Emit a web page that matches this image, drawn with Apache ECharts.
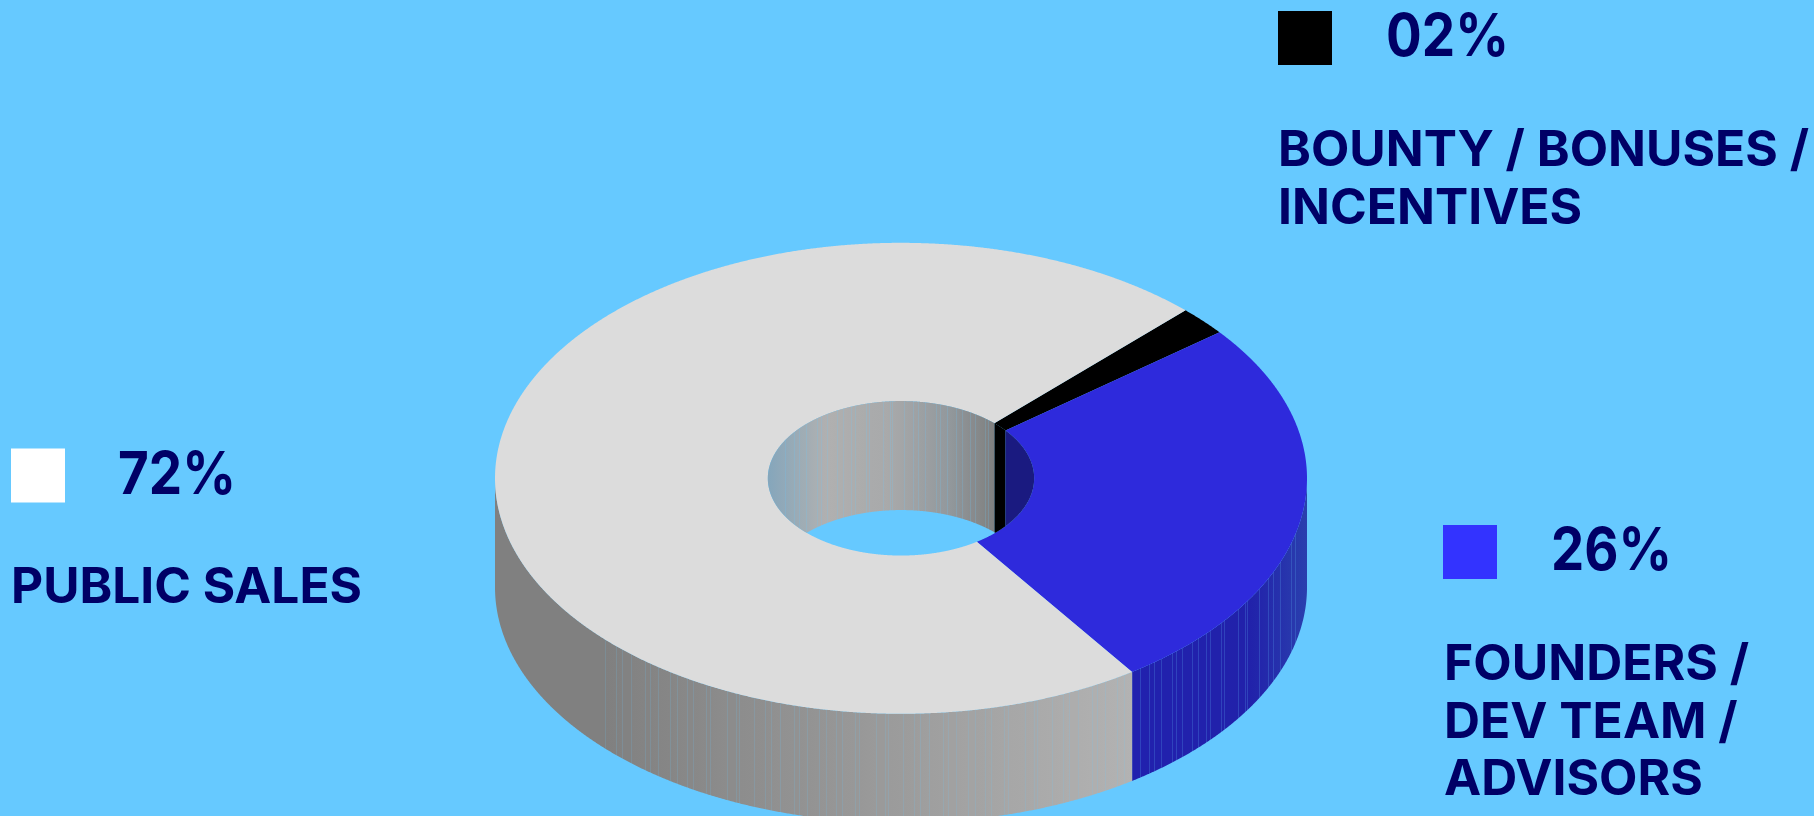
<!DOCTYPE html>
<html><head><meta charset="utf-8">
<style>html,body{margin:0;padding:0;background:#66c9ff}#c{width:1814px;height:816px}</style>
<script src="https://cdn.jsdelivr.net/npm/echarts@6/dist/echarts.min.js"></script>
</head><body><div id="c"></div>
<script>
// ---- data ----
const categories = ['BOUNTY / BONUSES /\nINCENTIVES', 'FOUNDERS /\nDEV TEAM /\nADVISORS', 'PUBLIC SALES'];
const shares = [2, 26, 72];
const shareLabels = ['02%', '26%', '72%'];

// ---- style / layout ----
const BG = '#66c9ff', INK = '#000066';
const swatchColors = ['#000000', '#3333ff', '#ffffff'];
const topColors = ['#000000', '#2e2adc', '#dcdcdc'];
const CX = 901, CY = 478.3, RX = 406, SQUASH = 0.58, HOLE = 0.328, DEPTH = 109, START = 45.5;
const legendPos = [
  {sx:1278, sy:11,  px:1386, py:38.5,  lx:1278, ly:122.5, w:531, pw:123},
  {sx:1443, sy:525, px:1551, py:552.5, lx:1444, ly:636.5, w:305, pw:121},
  {sx:11,   sy:448.5, px:118,  py:476.5, lx:11,   ly:559.5, w:351, pw:118}
];
const FONT = 'Inter';
const PCT_FONT = '700 59px ' + FONT, LABEL_FONT = '700 49.5px ' + FONT;
const gaps = [11, 6, 9, 14, 5, 8, 12, 7, 10, 6, 13, 4, 17, 9, 3, 15];

const measurer = document.createElement('canvas').getContext('2d');
function widest(text, font){
  measurer.font = font;
  return Math.max.apply(null, text.split('\n').map(t => measurer.measureText(t).width));
}
function mix(a, b, t){
  const p = c => [1,3,5].map(i => parseInt(c.substr(i,2),16));
  const A = p(a), B = p(b);
  return 'rgb(' + A.map((v,i) => Math.round(v + (B[i]-v)*t)).join(',') + ')';
}
function shadeAt(stops, x){
  for (let i = 1; i < stops.length; i++) {
    if (x <= stops[i][0]) {
      const t = (x - stops[i-1][0]) / (stops[i][0] - stops[i-1][0]);
      return mix(stops[i-1][1], stops[i][1], Math.max(0, t));
    }
  }
  return mix(stops[stops.length-1][1], stops[stops.length-1][1], 0);
}
function mixRgb(rgb, hex, t){
  const A = rgb.match(/\d+/g).map(Number);
  const B = [1,3,5].map(i => parseInt(hex.substr(i,2),16));
  return 'rgb(' + A.map((v,i) => Math.round(v + (B[i]-v)*t)).join(',') + ')';
}
// horizontal gradient in page space with thin, light vertical streaks
function wallFill(stops, from, to, amount, density){
  const x0 = stops[0][0], x1 = stops[stops.length-1][0], W = x1 - x0;
  const out = [];
  const add = (x, color) => out.push({offset: Math.min(1, Math.max(0, (x-x0)/W)), color});
  add(x0, shadeAt(stops, x0));
  let x = from, k = 0;
  while (x < to - 1) {
    const base = shadeAt(stops, x);
    add(x, base);
    add(x, mixRgb(base, BG, amount));
    add(x + 1, mixRgb(base, BG, amount));
    add(x + 1, shadeAt(stops, x + 1));
    x += gaps[k++ % gaps.length] * density;
  }
  add(x1, shadeAt(stops, x1));
  return new echarts.graphic.LinearGradient(x0, 0, x1, 0, out, true);
}
const outerFills = [
  '#000000',
  wallFill([[1134,'#2121ae'],[1250,'#2121aa'],[1307,'#2a3fae']], 1140, 1300, 0.2, 0.8),
  wallFill([[495,'#808080'],[605,'#808080'],[880,'#9a9a9a'],[1134.5,'#b3b3b3']], 605, 1130, 0.16, 1)
];
const innerFills = [
  '#000000',
  '#1a1a80',
  wallFill([[767,'#84a6bc'],[825,'#b0b0b0'],[890,'#a8a9aa'],[950,'#92989c'],[995,'#7f7f7f']], 785, 990, 0.2, 0.8)
];

// cumulative [start, end, radius] rows for the polar scale
let run = 0;
const rows = shares.map(v => { const r = [run, run + v, 1]; run += v; return r; });

function squash(p){ return [p[0], CY + (p[1] - CY) * SQUASH]; }
function arc(api, r, a0, a1){
  const pts = [], STEP = 0.05, n = Math.max(2, Math.ceil((a1 - a0) / STEP));
  for (let i = 0; i <= n; i++) pts.push(squash(api.coord([r, a0 + (a1 - a0) * i / n])));
  return pts;
}
function renderOuterWall(p, api){
  const pts = arc(api, 1, api.value(0), api.value(1)).filter(q => q[1] >= CY);
  if (pts.length < 2) return null;
  const lower = pts.map(q => [q[0], q[1] + DEPTH]).reverse();
  return {type:'polygon', shape:{points: pts.concat(lower)}, style:{fill: outerFills[p.dataIndex]}};
}
function renderTop(p, api){
  const a0 = api.value(0), a1 = api.value(1);
  const pts = arc(api, 1, a0, a1).concat(arc(api, HOLE, a0, a1).reverse());
  return {type:'polygon', shape:{points: pts}, style:{fill: topColors[p.dataIndex]}};
}
function renderInnerWall(p, api){
  const pts = arc(api, HOLE, api.value(0), api.value(1)).filter(q => q[1] <= CY);
  if (pts.length < 2) return null;
  const lower = pts.map(q => [q[0], Math.min(q[1] + DEPTH, 2 * CY - q[1])]).reverse();
  return {type:'polygon', shape:{points: pts.concat(lower)}, style:{fill: innerFills[p.dataIndex]}};
}
const layer = (name, fn, z) => ({
  type:'custom', name, coordinateSystem:'polar', renderItem: fn, data: rows,
  encode:{angle:[0,1], radius:2}, z, silent:true, clip:false
});

const graphics = [];
shares.forEach((_, i) => {
  const L = legendPos[i];
  graphics.push({type:'rect', shape:{x:L.sx, y:L.sy, width:54, height:54}, style:{fill: swatchColors[i]}});
  graphics.push({type:'text', x:L.px, y:L.py, scaleX: L.pw / widest(shareLabels[i], PCT_FONT),
    style:{text: shareLabels[i], fill: INK, font: PCT_FONT, textAlign:'left', textVerticalAlign:'middle'}});
  graphics.push({type:'text', x:L.lx, y:L.ly, scaleX: L.w / widest(categories[i], LABEL_FONT),
    style:{text: categories[i], fill: INK, font: LABEL_FONT, lineHeight:57.5, textAlign:'left', textVerticalAlign:'top'}});
});

const chart = echarts.init(document.getElementById('c'), null, {renderer:'canvas'});
chart.setOption({
  animation:false,
  backgroundColor: BG,
  polar:{center:[CX, CY], radius:RX},
  angleAxis:{type:'value', min:0, max:100, startAngle:START, clockwise:true, show:false},
  radiusAxis:{type:'value', min:0, max:1, show:false},
  tooltip:{show:false},
  series:[
    layer('side', renderOuterWall, 1),
    layer('top', renderTop, 2),
    layer('hole', renderInnerWall, 3)
  ],
  graphic:{elements: graphics}
});
</script></body></html>
